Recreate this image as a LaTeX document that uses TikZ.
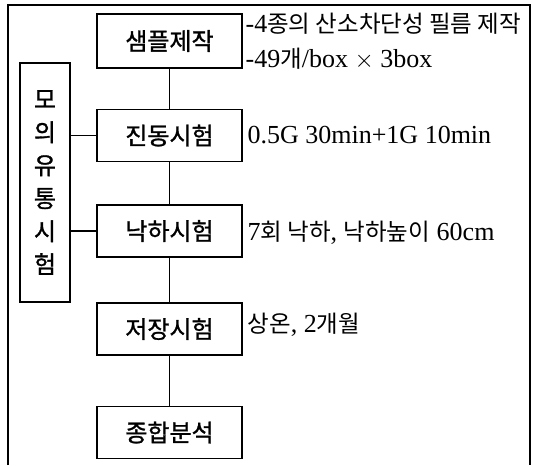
\documentclass[tikz,border=0pt]{standalone}
\usepackage{fontspec}
\setmainfont{Liberation Serif}
\newfontfamily\ko{Noto Sans CJK KR}
\newfontfamily\kob{Noto Sans CJK KR}[FakeBold=1.2]
\newcommand{\kn}[1]{{\ko\fontsize{23.5}{35}\selectfont #1}}

\begin{document}
\begin{tikzpicture}[x=1pt,y=-1pt,line width=1.2pt]
    \tikzset{stepbox/.style={draw,minimum width=145pt,minimum height=52pt,font=\kob\fontsize{24}{24}\selectfont},
             note/.style={anchor=west,inner sep=0pt,font=\fontsize{26}{35}\selectfont}}
    \useasboundingbox (0,0) rectangle (534,465);
    %outer frame, open at the bottom
    \draw (8,465) -- (8,5) -- (530,5) -- (530,465);
    %the test steps
    \node[stepbox,minimum height=54pt] (sample) at (169.5,41) {샘플제작};
    \node[stepbox] (vib) at (169.5,135.5) {진동시험};
    \node[stepbox] (drop) at (169.5,231) {낙하시험};
    \node[stepbox] (store) at (169.5,329) {저장시험};
    \node[stepbox] (total) at (169.5,432.5) {종합분석};
    \node[draw,minimum width=50pt,minimum height=239pt,align=center,
          font=\kob\fontsize{24}{33}\selectfont] (sim) at (45,182.5) {모\\의\\유\\통\\시\\험};
    \draw (sample) -- (vib) -- (drop) -- (store) -- (total);
    \draw (sim.east |- vib) -- (vib.west);
    \draw (sim.east |- drop) -- (drop.west);
    %conditions
    \node[note,align=left] (n1) at (245,41) {-4\kn{종의 산소차단성 필름 제작}\\-49\kn{개}/box $\times$ 3box};
    \node[note] (n2) at (247,135.5) {0.5G 30min+1G 10min};
    \node[note] (n3) at (247,233) {7\kn{회 낙하}, \kn{낙하높이} 60cm};
    \node[note] (n4) at (247,325) {\kn{상온}, 2\kn{개월}};
\end{tikzpicture}
\end{document}
